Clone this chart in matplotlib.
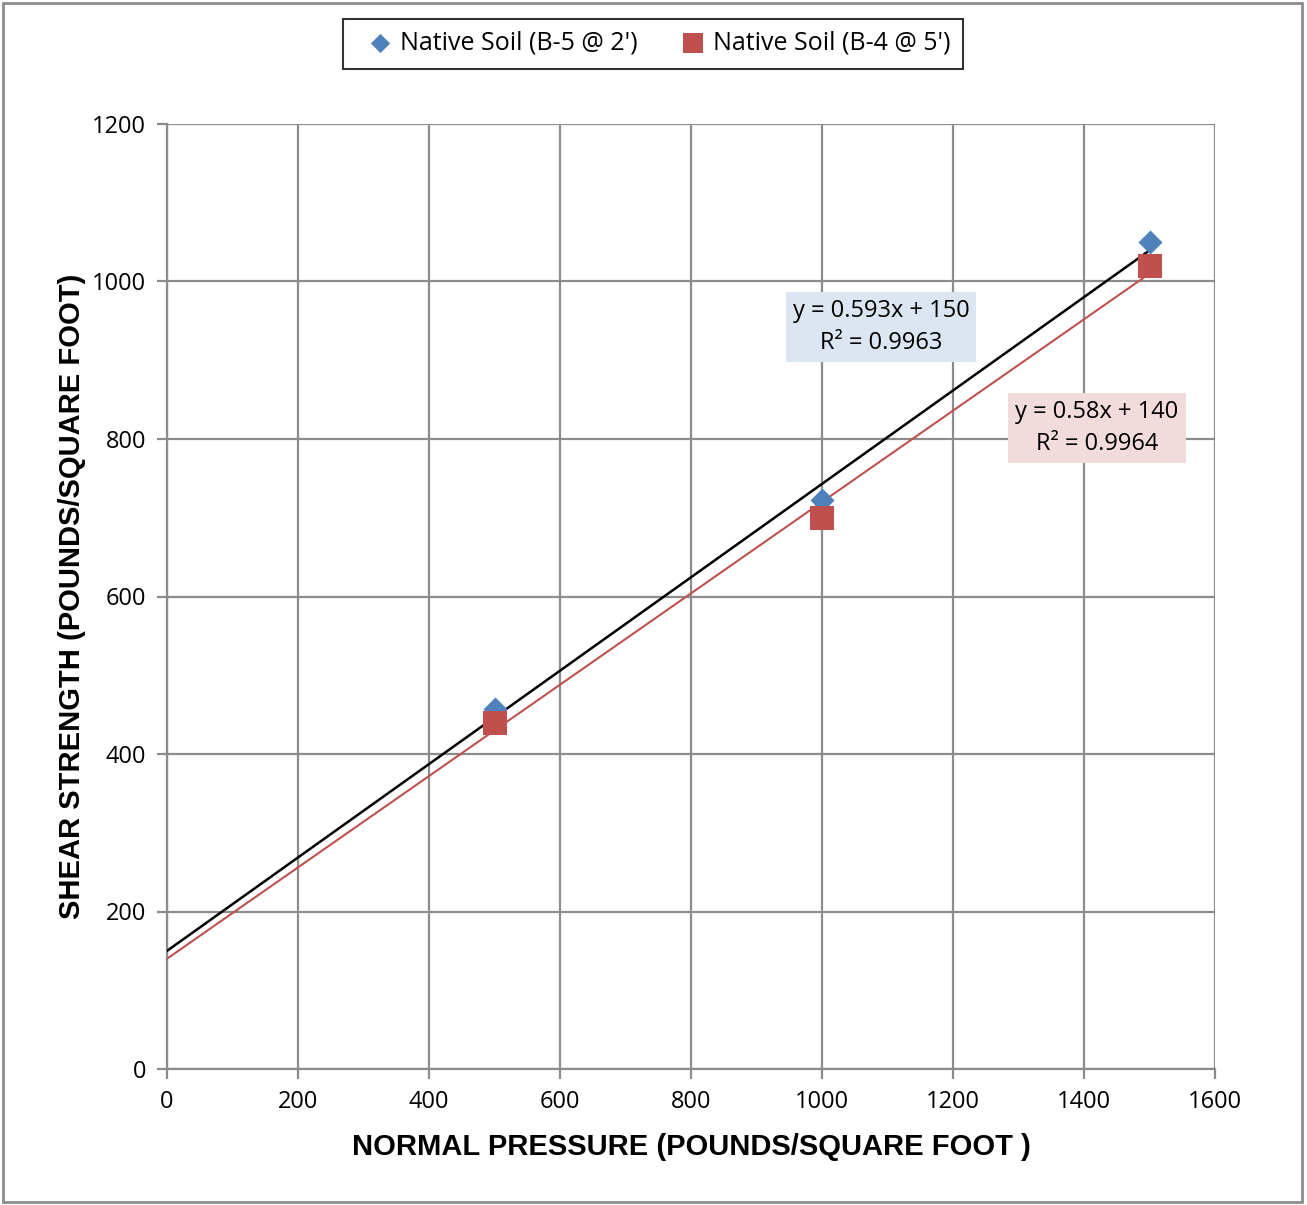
import matplotlib
matplotlib.use("Agg")
import matplotlib.pyplot as plt
import numpy as np
from matplotlib.patches import Rectangle

# Data
pressure = [500, 1000, 1500]
b5_strength = [457, 722, 1050]
b4_strength = [440, 700, 1020]
series_names = ["Native Soil (B-5 @ 2')", "Native Soil (B-4 @ 5')"]
xticks = [0, 200, 400, 600, 800, 1000, 1200, 1400, 1600]
yticks = [0, 200, 400, 600, 800, 1000, 1200]

BLUE = "#4F81BD"
RED = "#C0504D"
GRID = "#8C8C8C"
FONT = ["Open Sans", "DejaVu Sans"]

fig = plt.figure(figsize=(13.07, 12.05), dpi=100)
ax = fig.add_axes([167/1307, 1-1069/1205, (1215-167)/1307, (1069-124)/1205])

# Outer border
fig.patches.append(Rectangle((3/1307, 3/1205), 1299/1307, 1199/1205, transform=fig.transFigure,
                             fill=False, edgecolor="#8C8C8C", linewidth=2))

ax.set_xlim(0, 1600)
ax.set_ylim(0, 1200)
ax.set_xticks(xticks)
ax.set_yticks(yticks)
ax.grid(True, color=GRID, linewidth=1.6)
ax.set_axisbelow(True)
for s in ["top", "right"]:
    ax.spines[s].set_visible(False)
for s in ["left", "bottom"]:
    ax.spines[s].set_color(GRID)
    ax.spines[s].set_linewidth(1.6)
ax.tick_params(axis="both", direction="out", length=7, width=1.6, color=GRID,
               labelsize=17, pad=8)
for lab in ax.get_xticklabels() + ax.get_yticklabels():
    lab.set_family(FONT)

# Trend lines
def fit(x, y):
    m, b = np.polyfit(x, y, 1)
    return m, b

m5, b5 = fit(pressure, b5_strength)
m4, b4 = fit(pressure, b4_strength)
xs = np.array([0, 1500])
ax.plot(xs, m5*xs + b5, color="black", linewidth=1.8, zorder=3)
ax.plot(xs, m4*xs + b4, color=RED, linewidth=1.5, zorder=3)

ax.scatter(pressure, b5_strength, marker="D", s=150, color=BLUE, zorder=4, label=series_names[0], linewidths=0)
ax.scatter(pressure, b4_strength, marker="s", s=300, color=RED, zorder=5, label=series_names[1], linewidths=0)

ax.text(881/1307, 1-327/1205, "y = 0.593x + 150\nR² = 0.9963", transform=fig.transFigure,
        ha="center", va="center", fontsize=17, family=FONT, linespacing=1.4,
        bbox=dict(boxstyle="square,pad=0.3", facecolor="#DCE6F2", edgecolor="none"))
ax.text(1097/1307, 1-428/1205, "y = 0.58x + 140\nR² = 0.9964", transform=fig.transFigure,
        ha="center", va="center", fontsize=17, family=FONT, linespacing=1.4,
        bbox=dict(boxstyle="square,pad=0.3", facecolor="#F2DCDB", edgecolor="none"))

ax.set_xlabel("NORMAL PRESSURE (POUNDS/SQUARE FOOT )", fontsize=21, fontweight="bold",
              family=["Liberation Sans", "DejaVu Sans"], labelpad=14)
ax.set_ylabel("SHEAR STRENGTH (POUNDS/SQUARE FOOT)", fontsize=21, fontweight="bold",
              family=["Liberation Sans", "DejaVu Sans"], labelpad=4)

leg = fig.legend(loc="center", bbox_to_anchor=(653/1307, 1-43.5/1205), ncol=2,
                 frameon=True, fancybox=False, edgecolor="black", handletextpad=-0.2,
                 columnspacing=1.2, borderpad=0.5, prop={"family": FONT, "size": 18},
                 scatterpoints=1, markerscale=0.8, borderaxespad=0)
leg.get_frame().set_linewidth(1.5)

fig.savefig("out.png", dpi=100)
